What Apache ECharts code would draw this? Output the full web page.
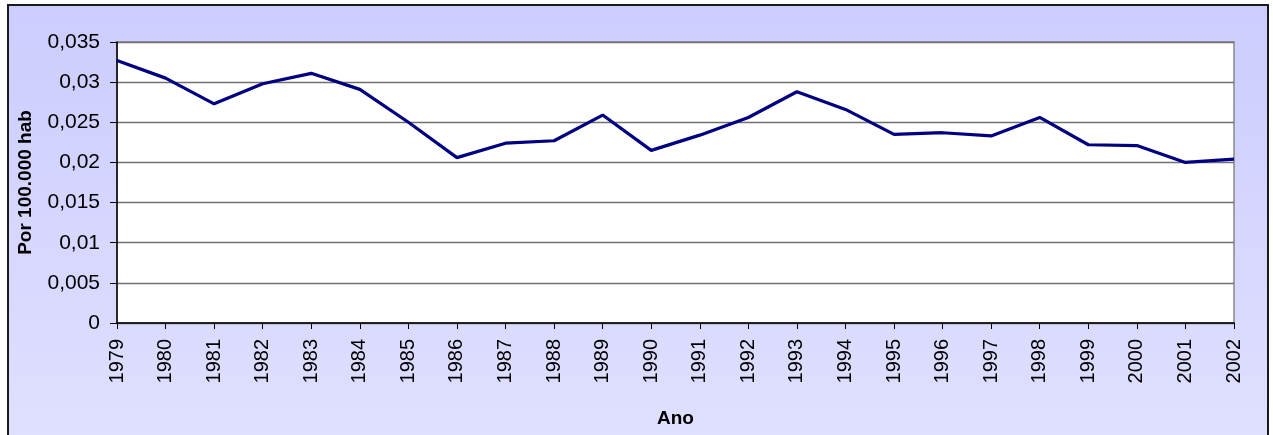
<!DOCTYPE html>
<html>
<head>
<meta charset="utf-8">
<script src="https://cdn.jsdelivr.net/npm/echarts@6/dist/echarts.min.js"></script>
<style>
html,body{margin:0;padding:0;background:#fff;}
#c{width:1273px;height:435px;}
</style>
</head>
<body>
<div id="c"></div>
<script>
const years = ['1979','1980','1981','1982','1983','1984','1985','1986','1987','1988','1989','1990','1991','1992','1993','1994','1995','1996','1997','1998','1999','2000','2001','2002'];
const rates = [0.0327,0.0305,0.0273,0.0298,0.0311,0.0291,0.0250,0.0206,0.0224,0.0227,0.0259,0.0215,0.0234,0.0256,0.0288,0.0266,0.0235,0.0237,0.0233,0.0256,0.0222,0.0221,0.0200,0.0204];
const yTicks = {min: 0, max: 0.035, interval: 0.005};

const chart = echarts.init(document.getElementById('c'), null, {renderer: 'canvas'});
const font = 'Liberation Sans, Arial, sans-serif';
chart.setOption({
  animation: false,
  graphic: [{
    type: 'rect',
    z: -10,
    silent: true,
    shape: {x: 8, y: 5, width: 1260, height: 445},
    style: {
      fill: new echarts.graphic.LinearGradient(0, 0, 0, 1, [
        {offset: 0, color: '#CCCCFF'},
        {offset: 1, color: '#E0E0FF'}
      ]),
      stroke: '#1a1a1a',
      lineWidth: 2
    }
  }],
  grid: {
    left: 117, right: 39, top: 42, bottom: 112,
    outerBoundsMode: 'none',
    containLabel: false,
    show: true, backgroundColor: '#ffffff', borderColor: '#888888', borderWidth: 1.5
  },
  xAxis: {
    type: 'category',
    data: years,
    boundaryGap: false,
    name: 'Ano',
    nameLocation: 'middle',
    nameGap: 86,
    nameTextStyle: {fontFamily: font, fontSize: 19, fontWeight: 'bold', color: '#000'},
    axisLine: {lineStyle: {color: '#000', width: 1.5}},
    axisTick: {show: true, length: 6, alignWithLabel: true, lineStyle: {color: '#000'}},
    axisLabel: {rotate: 90, margin: 16, fontFamily: font, fontSize: 20, color: '#000', interval: 0},
    splitLine: {show: false}
  },
  yAxis: {
    type: 'value',
    min: yTicks.min, max: yTicks.max, interval: yTicks.interval,
    name: 'Por 100.000 hab',
    nameLocation: 'middle',
    nameGap: 82,
    nameTextStyle: {fontFamily: font, fontSize: 19, fontWeight: 'bold', color: '#000'},
    axisLine: {show: true, lineStyle: {color: '#000', width: 1.5}},
    axisTick: {show: true, length: 7, lineStyle: {color: '#000'}},
    axisLabel: {
      margin: 17, fontFamily: font, fontSize: 21, color: '#000',
      formatter: v => v === 0 ? '0' : String(+v.toFixed(3)).replace('.', ',')
    },
    splitLine: {show: true, lineStyle: {color: '#707070', width: 1.3}}
  },
  series: [{
    type: 'line',
    data: rates,
    symbol: 'none',
    lineStyle: {color: '#000080', width: 3.2},
    z: 5
  }]
});
</script>
</body>
</html>
